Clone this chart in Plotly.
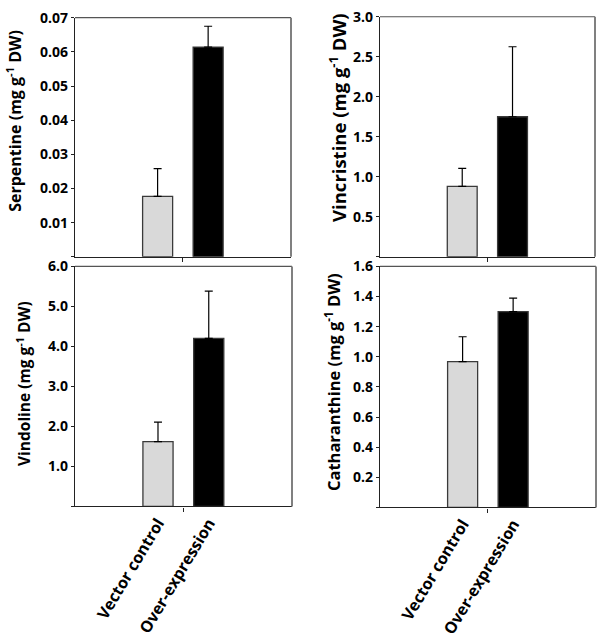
import plotly.graph_objects as go

groups = ["Vector control", "Over-expression"]
bar_colors = ["#d9d9d9", "#000000"]

serp_mean = [0.0177, 0.0614]
serp_err = [0.0081, 0.0061]
vinc_mean = [0.88, 1.75]
vinc_err = [0.225, 0.875]
vind_mean = [1.62, 4.20]
vind_err = [0.49, 1.18]
cath_mean = [0.968, 1.30]
cath_err = [0.165, 0.09]

serp_ticks = [0.01, 0.02, 0.03, 0.04, 0.05, 0.06, 0.07]
serp_labels = ["0.01", "0.02", "0.03", "0.04", "0.05", "0.06", "0.07"]
vinc_ticks = [0.5, 1.0, 1.5, 2.0, 2.5, 3.0]
vinc_labels = ["0.5", "1.0", "1.5", "2.0", "2.5", "3.0"]
vind_ticks = [1, 2, 3, 4, 5, 6]
vind_labels = ["1.0", "2.0", "3.0", "4.0", "5.0", "6.0"]
cath_ticks = [0.2, 0.4, 0.6, 0.8, 1.0, 1.2, 1.4, 1.6]
cath_labels = ["0.2", "0.4", "0.6", "0.8", "1.0", "1.2", "1.4", "1.6"]

panels = [
    dict(mean=serp_mean, err=serp_err, ticks=serp_ticks, labels=serp_labels,
         title="Serpentine (mg g<sup>-1</sup> DW)", xd=[75/600, 291/600],
         yd=[1-256/638, 1-8/638], tx=14, ty=115, ts=16, xlab=False),
    dict(mean=vinc_mean, err=vinc_err, ticks=vinc_ticks, labels=vinc_labels,
         title="Vincristine (mg g<sup>-1</sup> DW)", xd=[380/600, 595/600],
         yd=[1-256/638, 1-7/638], tx=338, ty=112, ts=18.5, xlab=False),
    dict(mean=vind_mean, err=vind_err, ticks=vind_ticks, labels=vind_labels,
         title="Vindoline (mg g<sup>-1</sup> DW)", xd=[75/600, 292/600],
         yd=[1-515/638, 1-266/638], tx=24, ty=388, ts=15.5, xlab=True),
    dict(mean=cath_mean, err=cath_err, ticks=cath_ticks, labels=cath_labels,
         title="Catharanthine (mg g<sup>-1</sup> DW)", xd=[380/600, 596/600],
         yd=[1-516/638, 1-266/638], tx=333, ty=386, ts=16.5, xlab=True),
]

FONT = "Open Sans"
fig = go.Figure()
annotations = []
shapes = []
xpos = [0, 1]
for i, p in enumerate(panels):
    n = "" if i == 0 else str(i + 1)
    for j in range(2):
        fig.add_trace(go.Bar(
            x=[xpos[j]], y=[p["mean"][j]], width=0.594,
            marker=dict(color=bar_colors[j], line=dict(color="#3a3a3a", width=1.3)),
            error_y=dict(type="data", symmetric=False, array=[p["err"][j]],
                         arrayminus=[0], color="black", thickness=1.2, width=4),
            xaxis="x" + n, yaxis="y" + n, showlegend=False,
        ))
    top = p["ticks"][-1]
    fig.layout["xaxis" + n] = dict(
        domain=p["xd"], anchor="y" + n, range=[-1.635, 2.64],
        tickvals=xpos, ticktext=groups,
        showticklabels=p["xlab"], ticks="", tickangle=-59,
        tickfont=dict(family=FONT, size=16, color="black", weight="bold"),
        showline=True, linecolor="#222", linewidth=1.3, showgrid=False, zeroline=False,
        minor=dict(tickvals=[0.5], ticks="outside", ticklen=4, tickcolor="#222", tickwidth=1),
        fixedrange=True,
    )
    fig.layout["yaxis" + n] = dict(
        domain=p["yd"], anchor="x" + n, range=[0, top],
        tickvals=p["ticks"], ticktext=p["labels"], ticks="outside", ticklen=3,
        tickcolor="#222", tickwidth=1,
        tickfont=dict(family=FONT, size=14, color="black", weight="bold"),
        showline=True, linecolor="#222", linewidth=1.3, showgrid=False, zeroline=False,
        minor=dict(tickvals=[0], ticks="outside", ticklen=3, tickcolor="#222", tickwidth=1),
        fixedrange=True,
    )
    xr = "x" + n + " domain"
    yr = "y" + n + " domain"
    shapes.append(dict(type="line", xref=xr, yref=yr, x0=0, x1=1, y0=1, y1=1,
                       line=dict(color="#555", width=1.2)))
    shapes.append(dict(type="line", xref=xr, yref=yr, x0=1, x1=1, y0=0, y1=1,
                       line=dict(color="#808080", width=2)))
    annotations.append(dict(
        text=p["title"], xref="paper", yref="paper", x=p["tx"]/600, y=1-p["ty"]/638,
        xanchor="center", yanchor="middle", textangle=-90, showarrow=False,
        font=dict(family=FONT, size=p["ts"], color="black", weight="bold"),
    ))

fig.update_layout(
    width=600, height=638, margin=dict(l=0, r=0, t=0, b=0),
    paper_bgcolor="white", plot_bgcolor="white",
    barmode="overlay", annotations=annotations, shapes=shapes,
)
fig.write_html("out.html", config={"displayModeBar": False},
               post_script="document.body.style.margin='0';document.body.style.overflow='hidden';")
